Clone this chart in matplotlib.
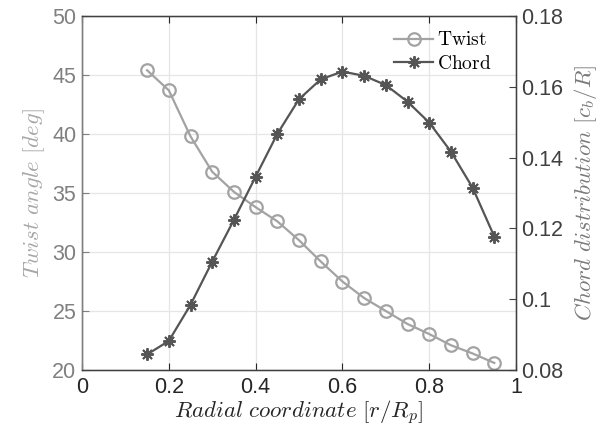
import matplotlib
matplotlib.use("Agg")
import matplotlib.pyplot as plt

# radial stations r/Rp
radius = [0.15, 0.2, 0.25, 0.3, 0.35, 0.4, 0.45, 0.5, 0.55, 0.6,
          0.65, 0.7, 0.75, 0.8, 0.85, 0.9, 0.95]
twist_deg = [45.4, 43.7, 39.8, 36.8, 35.1, 33.8, 32.6, 31.0, 29.2, 27.5,
             26.1, 25.0, 23.9, 23.05, 22.1, 21.4, 20.6]
chord = [0.0844, 0.0882, 0.0984, 0.1106, 0.1224, 0.1346, 0.1467, 0.1565, 0.1621, 0.1643,
         0.1631, 0.1605, 0.1558, 0.1499, 0.1417, 0.1315, 0.1177]

x_ticks = [0, 0.2, 0.4, 0.6, 0.8, 1]
x_ticklabels = ["0", "0.2", "0.4", "0.6", "0.8", "1"]
left_ticks = [20, 25, 30, 35, 40, 45, 50]
right_ticks = [0.08, 0.1, 0.12, 0.14, 0.16, 0.18]
right_ticklabels = ["0.08", "0.1", "0.12", "0.14", "0.16", "0.18"]

TWIST_C = "#a3a3a3"
CHORD_C = "#555555"
LEFT_AX_C = "#808080"
RIGHT_AX_C = "#404040"

plt.rcParams["font.family"] = ["Liberation Sans", "DejaVu Sans"]
plt.rcParams["mathtext.fontset"] = "cm"

fig = plt.figure(figsize=(6.14, 4.37), dpi=100)
ax = fig.add_axes([82 / 614, 67 / 437, 434 / 614, 354 / 437])
ax2 = ax.twinx()

l1, = ax.plot(radius, twist_deg, "-o", color=TWIST_C, lw=1.6, ms=9,
              markerfacecolor="none", markeredgewidth=1.6, label=r"$\mathrm{Twist}$")
l2, = ax2.plot(radius, chord, "-", color=CHORD_C, lw=1.6, ms=9,
               marker=(8, 2, 0), markeredgewidth=1.4, label=r"$\mathrm{Chord}$")

ax.set_xlim(0, 1)
ax.set_ylim(20, 50)
ax2.set_ylim(0.08, 0.18)
ax.set_xticks(x_ticks)
ax.set_xticklabels(x_ticklabels)
ax.set_yticks(left_ticks)
ax2.set_yticks(right_ticks)
ax2.set_yticklabels(right_ticklabels)

ax.grid(True, color="#e6e6e6", lw=0.9)
ax.set_axisbelow(True)

ax.tick_params(axis="x", direction="in", top=True, length=5, labelsize=15.5,
               colors="#262626", pad=5)
ax.tick_params(axis="y", direction="in", length=5, labelsize=15.5,
               colors=LEFT_AX_C, pad=4)
ax2.tick_params(axis="y", direction="in", length=5, labelsize=15.5,
                colors=RIGHT_AX_C, pad=4)

for sp in ["top", "bottom"]:
    ax2.spines[sp].set_color("#404040")
ax2.spines["left"].set_color(LEFT_AX_C)
ax2.spines["right"].set_color(RIGHT_AX_C)
for sp in ax.spines.values():
    sp.set_linewidth(0.9)
for sp in ax2.spines.values():
    sp.set_linewidth(0.9)

ax.set_xlabel(r"$Radial\ coordinate\ [r/R_p]$", fontsize=16.5, color="#262626", labelpad=1)
ax.set_ylabel(r"$Twist\ angle\ [deg]$", fontsize=16.5, color="#a6a6a6", labelpad=4)
ax2.set_ylabel(r"$Chord\ distribution\ [c_b/R]$", fontsize=16.5, color="#7a7a7a", labelpad=6)

ax2.legend(handles=[l1, l2], loc="upper right", bbox_to_anchor=(0.975, 0.995),
           frameon=False, fontsize=14, handlelength=2.0, handletextpad=0.2,
           borderaxespad=0.3, labelspacing=0.3)

fig.savefig("out.png", dpi=100)
